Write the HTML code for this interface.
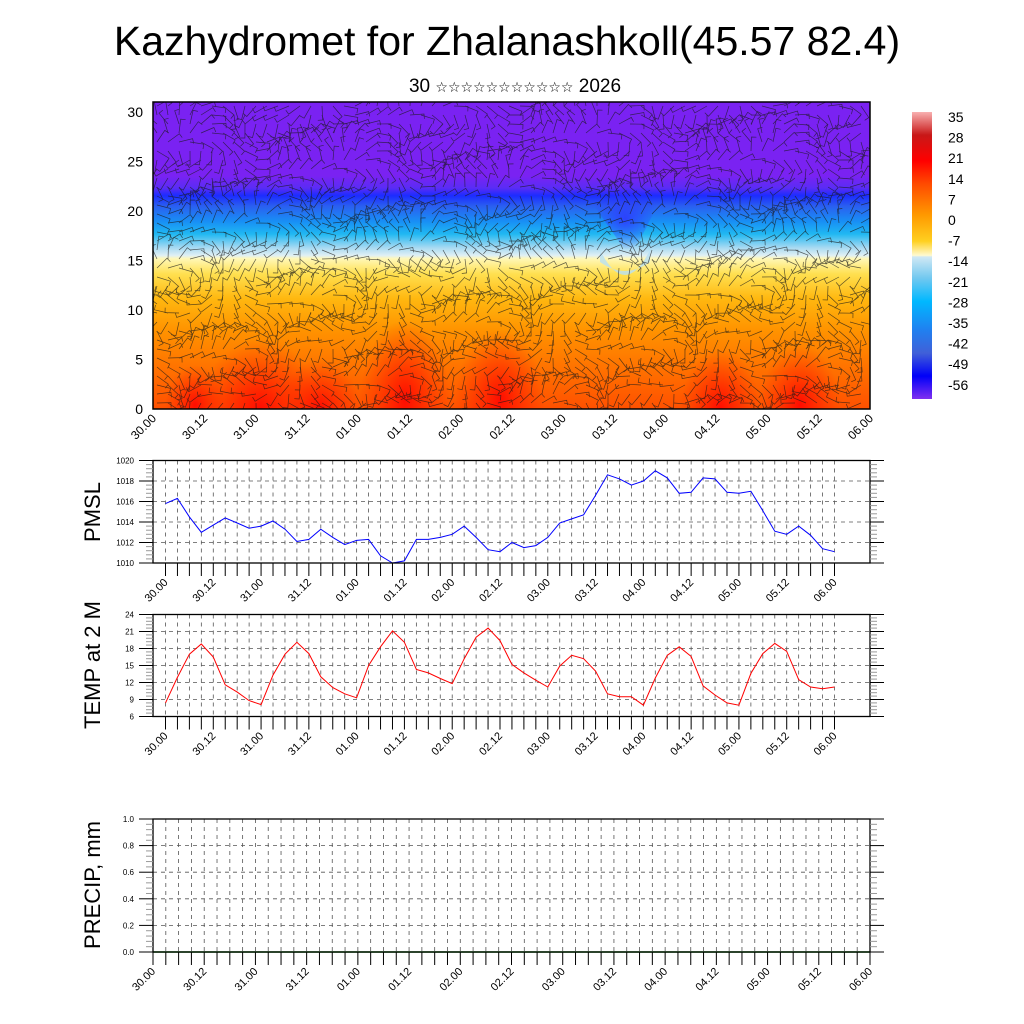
<!DOCTYPE html>
<html><head><meta charset="utf-8"><style>
html,body{margin:0;padding:0;background:#fff;}
svg{display:block;font-family:"Liberation Sans","DejaVu Sans",sans-serif;}
</style></head><body>
<svg id="c" width="1024" height="1024" viewBox="0 0 1024 1024" xmlns="http://www.w3.org/2000/svg">
<defs>
<linearGradient id="tg" x1="0" y1="0" x2="0" y2="1">
<stop offset="0" stop-color="#7a22f2"/><stop offset="0.24" stop-color="#7a22f2"/>
<stop offset="0.28" stop-color="#5a2cf5"/><stop offset="0.305" stop-color="#1c2cff"/>
<stop offset="0.34" stop-color="#2a60f0"/><stop offset="0.39" stop-color="#1890f5"/>
<stop offset="0.43" stop-color="#20b8f2"/><stop offset="0.475" stop-color="#a8daf2"/>
<stop offset="0.5" stop-color="#e0f0f4"/><stop offset="0.51" stop-color="#fff8b8"/>
<stop offset="0.56" stop-color="#ffe050"/><stop offset="0.64" stop-color="#ffb810"/>
<stop offset="0.74" stop-color="#ff9400"/><stop offset="0.86" stop-color="#ff7400"/>
<stop offset="1" stop-color="#ff5000"/>
</linearGradient>
<radialGradient id="rb"><stop offset="0" stop-color="#ff0800" stop-opacity="0.95"/><stop offset="1" stop-color="#ff2000" stop-opacity="0"/></radialGradient>
<radialGradient id="bb"><stop offset="0" stop-color="#3030ff" stop-opacity="0.8"/><stop offset="1" stop-color="#3030ff" stop-opacity="0"/></radialGradient>
<linearGradient id="cb" x1="0" y1="0" x2="0" y2="1">
<stop offset="0" stop-color="#f8b0b0"/><stop offset="0.08" stop-color="#c81818"/>
<stop offset="0.17" stop-color="#ff0000"/><stop offset="0.25" stop-color="#ff4a00"/>
<stop offset="0.36" stop-color="#ff9a00"/><stop offset="0.45" stop-color="#ffd020"/>
<stop offset="0.5" stop-color="#fffad0"/><stop offset="0.505" stop-color="#d0e8f4"/>
<stop offset="0.58" stop-color="#70c8f0"/><stop offset="0.66" stop-color="#00b8ff"/>
<stop offset="0.76" stop-color="#2080f0"/><stop offset="0.84" stop-color="#4060d8"/>
<stop offset="0.92" stop-color="#0000f8"/><stop offset="1" stop-color="#8030f0"/>
</linearGradient>
<clipPath id="tc"><rect x="153" y="102" width="717" height="307"/></clipPath>
</defs>
<text x="507" y="55" font-size="41" text-anchor="middle">Kazhydromet for Zhalanashkoll(45.57 82.4)</text>
<text x="515" y="92" font-size="19" text-anchor="middle">30 <tspan font-size="14">☆☆☆☆☆☆☆☆☆☆☆</tspan> 2026</text>
<g id="topPanel"></g>
<g id="cbar"></g>
<g id="pm"></g>
<g id="tp"></g>
<g id="pr"></g>
</svg>
<script>
const timeLabels=["30.00","30.12","31.00","31.12","01.00","01.12","02.00","02.12","03.00","03.12","04.00","04.12","05.00","05.12","06.00"];
const pmslValues=[1015.8,1016.3,1014.5,1013.0,1013.7,1014.4,1013.9,1013.4,1013.6,1014.1,1013.3,1012.1,1012.3,1013.3,1012.5,1011.8,1012.2,1012.3,1010.7,1010.0,1010.2,1012.3,1012.3,1012.5,1012.8,1013.6,1012.5,1011.3,1011.1,1012.0,1011.5,1011.7,1012.5,1013.9,1014.3,1014.7,1016.6,1018.6,1018.2,1017.6,1018.0,1019.0,1018.3,1016.8,1016.9,1018.3,1018.2,1016.9,1016.8,1017.0,1015.1,1013.1,1012.8,1013.6,1012.7,1011.4,1011.1];
const tempValues=[8.4,12.9,17.0,18.8,16.5,11.6,10.3,8.8,8.1,13.3,17.0,19.1,17.1,13.0,11.1,10.0,9.3,15.0,18.3,21.1,19.1,14.3,13.7,12.7,11.8,16.2,20.0,21.6,19.4,15.2,13.7,12.4,11.2,14.9,16.8,16.2,14.0,10.0,9.5,9.5,8.0,12.8,16.8,18.3,16.6,11.4,9.8,8.4,8.0,13.6,17.1,18.9,17.5,12.5,11.2,10.9,11.2];
const pmslTicks=[1010,1012,1014,1016,1018,1020];
const tempTicks=[6,9,12,15,18,21,24];
const precipTicks=[0.0,0.2,0.4,0.6,0.8,1.0];
const heightTicks=[0,5,10,15,20,25,30];
const cbarLabels=[35,28,21,14,7,0,-7,-14,-21,-28,-35,-42,-49,-56];

const NS="http://www.w3.org/2000/svg";
function mk(p,t,a,txt){const e=document.createElementNS(NS,t);for(const k in a)e.setAttribute(k,a[k]);if(txt!==undefined)e.textContent=txt;p.appendChild(e);return e;}

// ---- top panel
const topG=document.getElementById('topPanel');
const TX0=153,TX1=870,TY0=102,TY1=409;
const hy=v=>409-v*9.9;
const fld=mk(topG,'g',{'clip-path':'url(#tc)'});
const bg=mk(fld,'rect',{x:TX0,y:TY0,width:717,height:307,fill:'url(#tg)'});


[[260,409,60,70],[405,400,45,80],[500,400,45,70],[320,409,40,50],[720,409,40,60],[800,405,40,60],[195,405,30,40]].forEach(b=>{
 const e=mk(fld,'ellipse',{cx:b[0],cy:b[1],rx:b[2],ry:b[3],fill:'url(#rb)'});
 
 });
const dip=mk(fld,'path',{d:'M590 200 Q625 175 660 200 L640 240 Q628 260 618 240 Z',fill:'url(#bb)'});


mk(fld,'path',{d:'M600 250 Q625 300 650 250 L650 262 Q625 280 600 262 Z',fill:'#b8e0f4',opacity:0.8});
const barbs=mk(fld,'g',{stroke:'#1a1a1a','stroke-width':0.7,opacity:0.7,fill:'none'});
for(let y=TY0+4;y<TY1;y+=9){for(let x=TX0+4;x<TX1;x+=11){
 const a=Math.sin(x*0.031+y*0.05)*1.6+Math.cos(y*0.09-x*0.013)*1.1+(y<260?0.2:1.2);
 const L=14,dx=Math.cos(a)*L,dy=Math.sin(a)*L;
 mk(barbs,'path',{d:`M${x} ${y}l${dx.toFixed(1)} ${dy.toFixed(1)}l${(-dy*0.35).toFixed(1)} ${(dx*0.35).toFixed(1)}`});
}}
mk(topG,'rect',{x:TX0,y:TY0,width:717,height:307,fill:'none',stroke:'#000','stroke-width':1.5});
heightTicks.forEach(v=>{const t=mk(topG,'text',{x:143,y:hy(v)+5,'font-size':14,'text-anchor':'end'},v);
 
 });
timeLabels.forEach((s,i)=>{const x=TX0+i*(717/14);
 const t=mk(topG,'text',{x:x+4,y:419,'font-size':12,'text-anchor':'end',transform:`rotate(-45 ${x+4} 419)`},s);
 
 });

// ---- colorbar
const cbG=document.getElementById('cbar');
mk(cbG,'rect',{x:912,y:112,width:20,height:287,fill:'url(#cb)'});
cbarLabels.forEach((v,i)=>{const t=mk(cbG,'text',{x:948,y:122+i*20.6,'font-size':14},v);
 
 });

// ---- line panels
function panel(g,Y0,Y1,ticks,vals,color,title,titleY,evenLabels,fs,lblFmt){
 const X0=153,X1=870,xs0=165.5,xs1=834.5,n=57;
 const lo=ticks[0],hi=ticks[ticks.length-1];
 const yv=v=>Y1-(v-lo)/(hi-lo)*(Y1-Y0);
 const xp=i=>xs0+i*(xs1-xs0)/(n-1);
 const step=evenLabels?(X1-X0)/56:(xs1-xs0)/56, base=evenLabels?X0:xs0;
 const grid=mk(g,'g',{stroke:'#555','stroke-width':0.8,'stroke-dasharray':'4 4'});
 for(let i=0;i<=56;i++){const x=base+i*step;if(x>X0+1&&x<X1-1)mk(grid,'line',{x1:x,y1:Y0,x2:x,y2:Y1});}
 ticks.forEach(v=>{if(v>lo&&v<hi)mk(grid,'line',{x1:X0,y1:yv(v),x2:X1,y2:yv(v)});});
 if(vals){const pts=vals.map((v,i)=>xp(i).toFixed(1)+','+yv(v).toFixed(1)).join(' ');
  const l=mk(g,'polyline',{points:pts,fill:'none',stroke:color,'stroke-width':1});
  
  }
 else{mk(g,'line',{x1:X0,y1:Y1,x2:X1,y2:Y1,stroke:'#080','stroke-width':1.5});}
 mk(g,'rect',{x:X0,y:Y0,width:X1-X0,height:Y1-Y0,fill:'none',stroke:'#000','stroke-width':1.3});
 const tk=mk(g,'g',{stroke:'#000','stroke-width':1});
 const mn=(Y1-Y0)/((ticks.length-1)*5);
 for(let k=0;k<=(ticks.length-1)*5;k++){const y=Y1-k*mn,L=k%5==0?14:7;
  mk(tk,'line',{x1:X0-L,y1:y,x2:X0,y2:y,stroke:k%5==0?'#000':'#999'});mk(tk,'line',{x1:X1,y1:y,x2:X1+L,y2:y,stroke:k%5==0?'#000':'#999'});}
 for(let i=0;i<=56;i++){const x=base+i*step;mk(tk,'line',{x1:x,y1:Y1,x2:x,y2:Y1+13});}
 ticks.forEach(v=>{const t=mk(g,'text',{x:134,y:yv(v)+3,'font-size':8,'text-anchor':'end'},lblFmt(v));
  
  });
 timeLabels.forEach((s,i)=>{const x=base+i*4*step+3,y=Y1+20;
  const t=mk(g,'text',{x:x,y:y,'font-size':fs,'text-anchor':'end',transform:`rotate(-45 ${x} ${y})`},s);
  
  });
 const tt=mk(g,'text',{x:0,y:0,'font-size':22,'text-anchor':'middle',transform:`translate(100 ${titleY}) rotate(-90)`},title);
 
 
}
panel(document.getElementById('pm'),460.5,563,pmslTicks,pmslValues,'#0000ff','PMSL',512,false,11,v=>v);
panel(document.getElementById('tp'),614.5,716.5,tempTicks,tempValues,'#ff0000','TEMP at 2 M',665,false,11,v=>v);
panel(document.getElementById('pr'),819,952,precipTicks,null,'#000','PRECIP, mm',885,true,11,v=>v.toFixed(1));
</script>
</body></html>
